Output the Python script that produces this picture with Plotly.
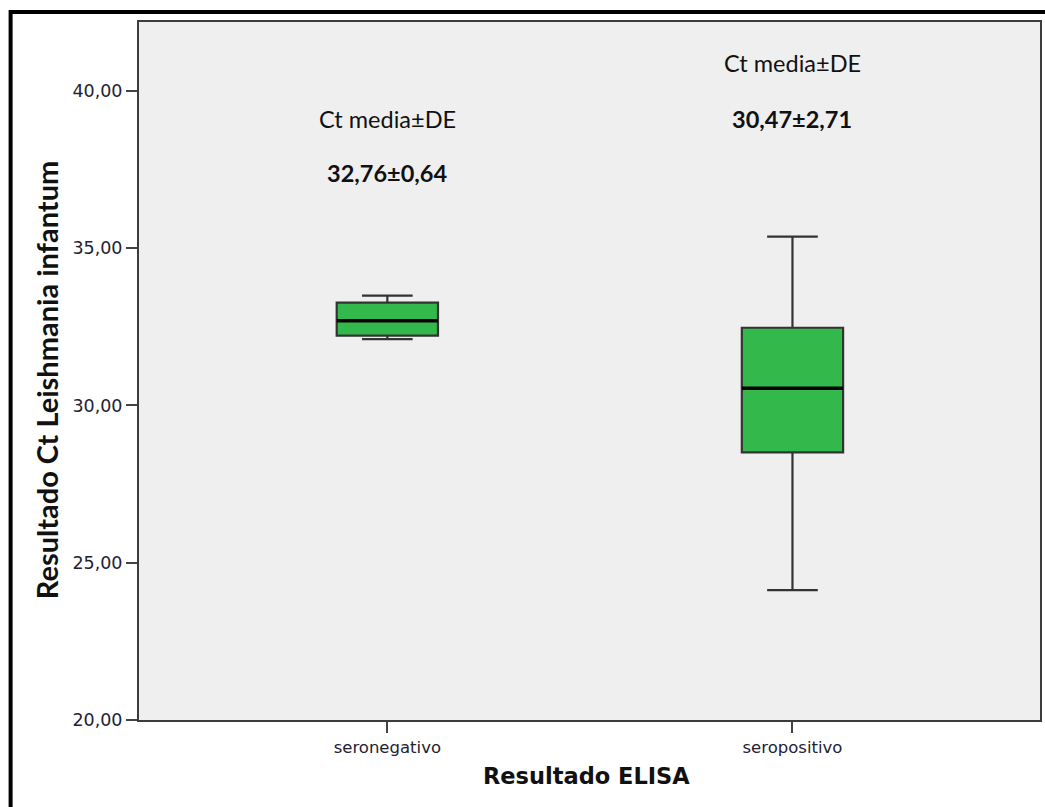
import plotly.graph_objects as go

# Box-plot statistics of the Ct values per ELISA result
groups = ["seronegativo", "seropositivo"]
positions = [0, 1]
lower_whisker = [32.11, 24.13]
q1 = [32.22, 28.51]
median = [32.69, 30.55]
q3 = [33.27, 32.47]
upper_whisker = [33.49, 35.37]

# Mean and standard deviation reported above each box
ct_mean = [32.76, 30.47]
ct_sd = [0.64, 2.71]

y_ticks = [20, 25, 30, 35, 40]

BOX_W = 0.25
GREEN = "#33b84b"

fig = go.Figure()

fig.add_trace(go.Box(
    x=positions,
    q1=q1, median=median, q3=q3,
    lowerfence=lower_whisker, upperfence=upper_whisker,
    width=BOX_W, whiskerwidth=0.5,
    fillcolor=GREEN,
    line=dict(color="#333333", width=2.2),
    boxpoints=False, hoverinfo="skip", showlegend=False,
))

# Heavier black median line drawn over each box
for xp, med in zip(positions, median):
    fig.add_trace(go.Scatter(
        x=[xp - BOX_W / 2, xp + BOX_W / 2], y=[med, med],
        mode="lines", line=dict(color="#000000", width=3.5),
        hoverinfo="skip", showlegend=False,
    ))

def fmt(v):
    return f"{v:.2f}".replace(".", ",")

label_font = dict(family="Lato", size=23.5, color="#111111")
head_y = [39.11, 40.89]
value_y = [37.39, 39.11]
annotations = []
for xp, m, s, hy, vy in zip(positions, ct_mean, ct_sd, head_y, value_y):
    annotations.append(dict(x=xp, y=hy, xref="x", yref="y", text="Ct media±DE",
                            showarrow=False, font=label_font))
    annotations.append(dict(x=xp, y=vy, xref="x", yref="y",
                            text=f"<b>{fmt(m)}±{fmt(s)}</b>",
                            showarrow=False, font=label_font))

annotations.append(dict(x=-0.103, y=0.487, xref="paper", yref="paper",
                        xanchor="center", yanchor="middle",
                        text="<b>Resultado Ct Leishmania infantum</b>", textangle=-90,
                        showarrow=False, font=dict(family="Lato", size=29, color="#111111")))
annotations.append(dict(x=0.4967, y=-0.0802, xref="paper", yref="paper",
                        xanchor="center", yanchor="middle",
                        text="<b>Resultado ELISA</b>",
                        showarrow=False, font=dict(family="DejaVu Sans", size=22.5, color="#111111")))

fig.update_layout(
    width=1045, height=807,
    margin=dict(l=139, r=3, t=22, b=87),
    paper_bgcolor="white",
    plot_bgcolor="#efefef",
    separators=",.",
    annotations=annotations,
    shapes=[dict(type="rect", xref="paper", yref="paper",
                 x0=-0.1425, x1=1.2, y0=-0.4, y1=1.0143,
                 line=dict(color="black", width=4), layer="below")],
)

fig.update_xaxes(
    range=[-0.613, 1.611],
    tickvals=positions, ticktext=groups,
    ticks="outside", ticklen=11, tickwidth=2, tickcolor="#444444",
    tickfont=dict(family="DejaVu Sans", size=16.5, color="#222233"),
    showgrid=False, zeroline=False,
    showline=True, linecolor="#3c3c3c", linewidth=2, mirror=True,
)
fig.update_yaxes(
    range=[20, 42.19],
    tickvals=y_ticks, tickformat=".2f",
    ticks="outside", ticklen=11, tickwidth=2, tickcolor="#444444",
    tickfont=dict(family="DejaVu Sans", size=17.5, color="#222233"),
    showgrid=False, zeroline=False,
    showline=True, linecolor="#3c3c3c", linewidth=2, mirror=True,
)

fig.write_html("out.html")
